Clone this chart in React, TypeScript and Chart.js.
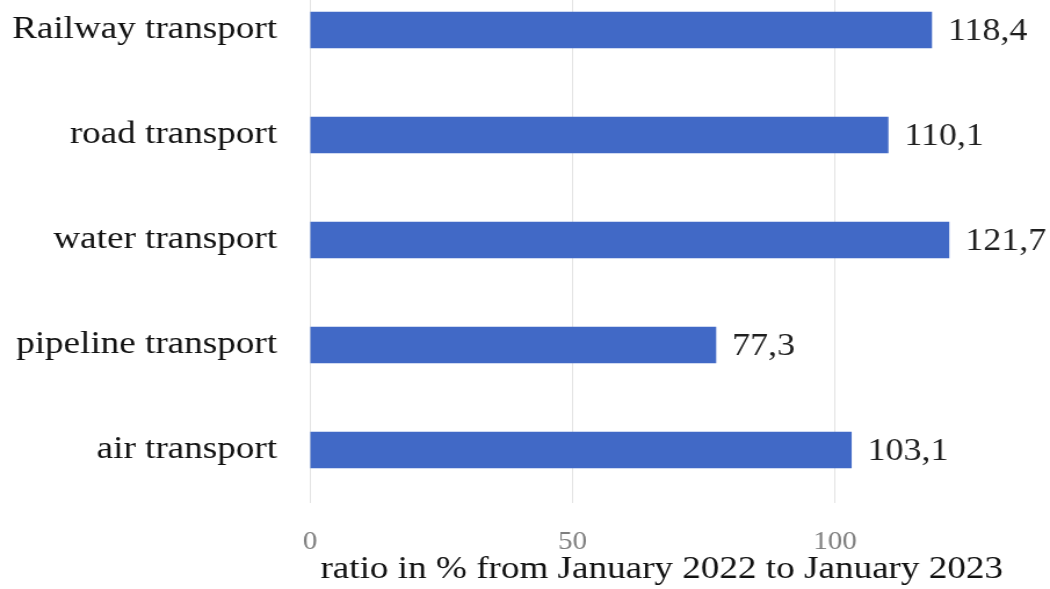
import React, { useEffect, useRef } from "react";
import { Chart, registerables } from "chart.js";

Chart.register(...registerables);

const categories = [
  "Railway transport",
  "road transport",
  "water transport",
  "pipeline transport",
  "air transport",
];
const values = [118.4, 110.1, 121.7, 77.3, 103.1];
const axisTitle = "ratio in % from January 2022 to January 2023";

// horizontal stretch of the reference
const OUT_W = 1050;
const CANVAS_W = 905;
const SX = OUT_W / CANVAS_W;
const CANVAS_H = 660;
const TOP_SHIFT = -40;

const FONT = "'Liberation Serif', 'Times New Roman', serif";

const valueLabels = {
  id: "valueLabels",
  afterDatasetsDraw(chart: any) {
    const ctx = chart.ctx;
    const meta = chart.getDatasetMeta(0);
    ctx.save();
    ctx.font = `31px ${FONT}`;
    ctx.fillStyle = "#1f1f1f";
    ctx.textAlign = "left";
    ctx.textBaseline = "middle";
    meta.data.forEach((el: any, i: number) => {
      const v = chart.data.datasets[0].data[i] as number;
      ctx.fillText(v.toFixed(1).replace(".", ","), el.x + 14, el.y + 2);
    });
    ctx.restore();
  },
};

export default function App() {
  const ref = useRef<HTMLCanvasElement | null>(null);
  useEffect(() => {
    document.body.style.margin = "0";
    const yWidth = 310 / SX;
    const xMax = 134;
    const pxPerUnit = 5.25 / SX;
    const right = yWidth + xMax * pxPerUnit;
    const chart = new Chart(ref.current!, {
      type: "bar",
      data: {
        labels: categories,
        datasets: [
          {
            data: values,
            backgroundColor: "#4169c6",
            borderWidth: 0,
            barThickness: 36,
          },
        ],
      },
      plugins: [valueLabels],
      options: {
        indexAxis: "y",
        animation: false,
        responsive: false,
        devicePixelRatio: 1,
        layout: {
          padding: { top: 17.5, left: 0, right: CANVAS_W - right, bottom: 0 },
        },
        plugins: {
          legend: { display: false },
          tooltip: { enabled: false },
        },
        scales: {
          x: {
            min: 0,
            max: xMax,
            ticks: {
              stepSize: 50,
              includeBounds: false,
              padding: 25,
              color: "#7f7f7f",
              font: { family: FONT, size: 25 },
            },
            grid: { color: "#e4e4e4", drawTicks: false, lineWidth: 1 },
            border: { display: false },
            title: {
              display: true,
              text: axisTitle,
              color: "#111111",
              font: { family: FONT, size: 32 },
              padding: { top: 0, bottom: 31 },
            },
            afterFit: (s: any) => {
              s.height = CANVAS_H - 542.5;
              s.paddingLeft = 0;
              s.paddingRight = 0;
            },
          },
          y: {
            ticks: {
              padding: 28.4,
              color: "#111111",
              font: { family: FONT, size: 32 },
            },
            grid: { display: false, drawTicks: false },
            border: { display: false },
            afterFit: (s: any) => {
              s.width = yWidth;
              s.paddingTop = 0;
              s.paddingBottom = 0;
            },
          },
        },
      },
    });
    return () => chart.destroy();
  }, []);

  return (
    <div
      style={{
        position: "fixed",
        left: 0,
        top: 0,
        width: OUT_W,
        height: 589,
        overflow: "hidden",
        background: "#ffffff",
      }}
    >
      <div
        style={{
          position: "absolute",
          left: 0,
          top: TOP_SHIFT,
          width: CANVAS_W,
          height: CANVAS_H,
          transform: `scaleX(${SX})`,
          transformOrigin: "0 0",
        }}
      >
        <canvas ref={ref} width={CANVAS_W} height={CANVAS_H} />
      </div>
    </div>
  );
}
